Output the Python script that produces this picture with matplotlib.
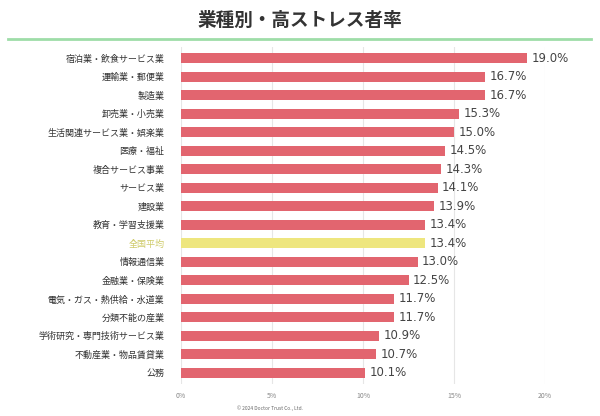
import matplotlib
matplotlib.use("Agg")
import matplotlib.pyplot as plt

plt.rcParams['font.family'] = ['Noto Sans CJK JP', 'DejaVu Sans']

# data
industries = ["宿泊業・飲食サービス業", "運輸業・郵便業", "製造業", "卸売業・小売業",
              "生活関連サービス業・娯楽業", "医療・福祉", "複合サービス事業", "サービス業",
              "建設業", "教育・学習支援業", "全国平均", "情報通信業", "金融業・保険業",
              "電気・ガス・熱供給・水道業", "分類不能の産業", "学術研究・専門技術サービス業",
              "不動産業・物品賃貸業", "公務"]
rates = [19.0, 16.7, 16.7, 15.3, 15.0, 14.5, 14.3, 14.1, 13.9, 13.4, 13.4,
         13.0, 12.5, 11.7, 11.7, 10.9, 10.7, 10.1]
xticks = [0, 5, 10, 15, 20]

red = "#E2656F"
yellow = "#EEE67E"
colors = [yellow if name == "全国平均" else red for name in industries]

fig = plt.figure(figsize=(6, 4.16), dpi=100)
ax = fig.add_axes([181 / 600, 1 - 384 / 416, 364 / 600, 337 / 416])

ypos = list(range(len(industries)))
ax.barh(ypos, rates, height=0.55, color=colors, zorder=2)
for y, v in zip(ypos, rates):
    ax.text(v + 0.25, y, f"{v:.1f}%", va="center", ha="left", fontsize=8.5,
            color="#444444", family="DejaVu Sans")

ax.set_xlim(0, 20)
ax.set_ylim(len(industries) - 0.4, -0.6)
ax.set_yticks(ypos)
ax.set_yticklabels(industries, fontsize=6.5, color="#333333")
for lbl in ax.get_yticklabels():
    if lbl.get_text() == "全国平均":
        lbl.set_color("#CFCB6A")
ax.set_xticks(xticks)
ax.set_xticklabels([f"{t}%" for t in xticks], fontsize=5, color="#888888")
ax.tick_params(axis="both", length=0)
ax.tick_params(axis="y", pad=12)
ax.tick_params(axis="x", pad=6)
ax.grid(axis="x", color="#E6E6E6", linewidth=0.8, zorder=0)
for s in ax.spines.values():
    s.set_visible(False)

fig.text(0.5, 1 - 20 / 416, "業種別・高ストレス者率", ha="center", va="center",
         fontsize=13.4, fontweight="bold", color="#333333")
fig.add_artist(plt.Line2D([8 / 600, 591 / 600], [1 - 39 / 416, 1 - 39 / 416],
                          color="#9EDDA8", linewidth=2))
fig.text(270 / 600, 1 - 408 / 416, "© 2024 Doctor Trust Co., Ltd.", ha="center",
         va="center", fontsize=3.5, color="#666666")

fig.savefig("out.png", dpi=100)
